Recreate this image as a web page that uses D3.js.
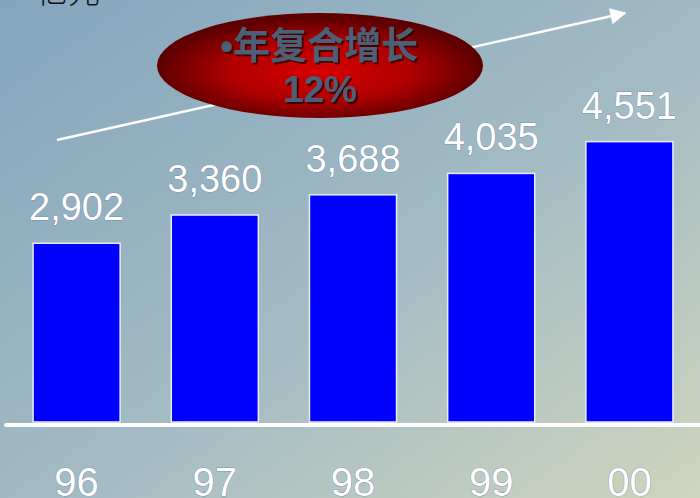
<!DOCTYPE html>
<html>
<head>
<meta charset="utf-8">
<script src="https://cdn.jsdelivr.net/npm/d3@7"></script>
<style>
  html, body { margin: 0; padding: 0; overflow: hidden; }
  svg { display: block; }
</style>
</head>
<body>
<script>
// Annual revenue, 亿元
const years = ["96", "97", "98", "99", "00"];
const revenue = [2902, 3360, 3688, 4035, 4551];
const unitLabel = "亿元";
const growthBullet = "•";
const growthTitle = "年复合增长";
const growthRate = "12%";

const W = 700, H = 498;
const svg = d3.select("body").append("svg").attr("width", W).attr("height", H);
const defs = svg.append("defs");

// Background wash
const bg = defs.append("linearGradient").attr("id", "bg")
  .attr("x1", "0%").attr("y1", "0%").attr("x2", "100%").attr("y2", "100%");
bg.append("stop").attr("offset", "0%").attr("stop-color", "#84a5bd");
bg.append("stop").attr("offset", "55%").attr("stop-color", "#a3bcc4");
bg.append("stop").attr("offset", "100%").attr("stop-color", "#cfd5bd");
svg.append("rect").attr("width", W).attr("height", H).attr("fill", "url(#bg)");

// Oval badge gradient
const rg = defs.append("radialGradient").attr("id", "badge")
  .attr("cx", "50%").attr("cy", "55%").attr("r", "50%");
rg.append("stop").attr("offset", "0%").attr("stop-color", "#d80000");
rg.append("stop").attr("offset", "55%").attr("stop-color", "#b00000");
rg.append("stop").attr("offset", "100%").attr("stop-color", "#5e0000");

const shadow = defs.append("filter").attr("id", "txtShadow")
  .attr("x", "-10%").attr("y", "-10%").attr("width", "130%").attr("height", "140%");
shadow.append("feDropShadow").attr("dx", 2).attr("dy", 2).attr("stdDeviation", 0.5)
  .attr("flood-color", "#2a0000").attr("flood-opacity", 0.8);

// Scales
const x = d3.scaleBand().domain(years).range([7.5, 698.5])
  .paddingInner(0.37).paddingOuter(0.185);
const y = d3.scaleLinear().domain([0, 6850]).range([422, 0]);

// Growth arrow
defs.append("marker").attr("id", "arrowHead")
  .attr("viewBox", "0 0 10 10").attr("refX", 9).attr("refY", 5)
  .attr("markerWidth", 7).attr("markerHeight", 6.5).attr("markerUnits", "strokeWidth")
  .attr("orient", "auto")
  .append("path").attr("d", "M0,0 L10,5 L0,10 Z").attr("fill", "#fff");
svg.append("line")
  .attr("x1", 57).attr("y1", 140).attr("x2", 625).attr("y2", 13)
  .attr("stroke", "#fff").attr("stroke-width", 2.5)
  .attr("marker-end", "url(#arrowHead)");

// Unit label, partially above the top edge
svg.append("text")
  .attr("x", 36).attr("y", 3)
  .attr("font-family", "'Noto Sans CJK SC', sans-serif")
  .attr("font-size", 32).attr("font-weight", 300)
  .attr("fill", "#111").text(unitLabel);

// Badge
svg.append("ellipse").attr("cx", 320).attr("cy", 65.5).attr("rx", 163).attr("ry", 52.5)
  .attr("fill", "url(#badge)");
const badgeText = svg.append("g").attr("filter", "url(#txtShadow)")
  .attr("fill", "#4e5f76");
const title = badgeText.append("text").attr("x", 220).attr("y", 59)
  .attr("font-size", 37).attr("font-weight", 700);
title.append("tspan")
  .attr("font-family", "'Liberation Sans', Arial, sans-serif")
  .text(growthBullet);
title.append("tspan")
  .attr("font-family", "'Noto Sans CJK SC', sans-serif")
  .attr("dx", 0).text(growthTitle);
badgeText.append("text").attr("x", 320).attr("y", 102)
  .attr("text-anchor", "middle")
  .attr("font-family", "'Liberation Sans', Arial, sans-serif")
  .attr("font-size", 37).attr("font-weight", 700).text(growthRate);

// Bars
svg.append("g").selectAll("rect").data(revenue).join("rect")
  .attr("x", (d, i) => x(years[i]))
  .attr("y", d => y(d))
  .attr("width", x.bandwidth())
  .attr("height", d => y(0) - y(d))
  .attr("fill", "#0000ff")
  .attr("stroke", "#e8eef8").attr("stroke-width", 1.5);

// Value labels
const fmt = d3.format(",");
svg.append("g").selectAll("text").data(revenue).join("text")
  .attr("x", (d, i) => x(years[i]) + x.bandwidth() / 2)
  .attr("y", d => y(d) - 23)
  .attr("text-anchor", "middle")
  .attr("font-family", "'Liberation Sans', Arial, sans-serif")
  .attr("font-size", 38)
  .attr("fill", "#fff")
  .attr("stroke", "#5a6f9a").attr("stroke-width", 0.6).attr("paint-order", "stroke")
  .text(d => fmt(d));

// Baseline
svg.append("line").attr("x1", 6).attr("x2", 700).attr("y1", 425).attr("y2", 425)
  .attr("stroke", "#fff").attr("stroke-width", 4).attr("stroke-linecap", "round");

// Category axis
const xAxis = svg.append("g").attr("transform", "translate(0,425)")
  .call(d3.axisBottom(x).tickSize(0).tickPadding(0));
xAxis.select(".domain").remove();
xAxis.selectAll("text")
  .attr("y", 71).attr("dy", null)
  .attr("font-family", "'Liberation Sans', Arial, sans-serif")
  .attr("font-size", 40)
  .attr("fill", "#fff")
  .attr("stroke", "#5a6f9a").attr("stroke-width", 0.6).attr("paint-order", "stroke");
</script>
</body>
</html>
